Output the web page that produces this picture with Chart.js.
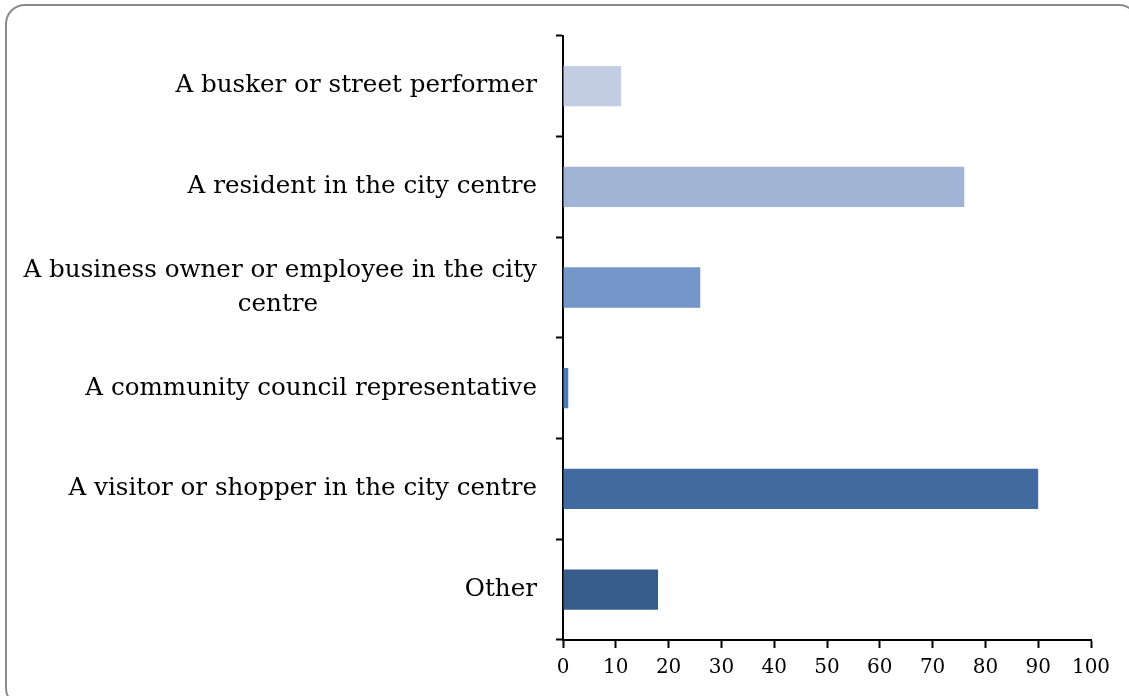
<!DOCTYPE html>
<html lang="en">
<head>
    <meta charset="UTF-8">
    <title>Respondent type</title>
    <script src="https://cdn.jsdelivr.net/npm/chart.js"></script>
    <style>
        html, body {
            margin: 0;
            padding: 0;
            background: #ffffff;
            overflow: hidden;
        }
        .chart-box {
            position: absolute;
            left: 0;
            top: 0;
            width: 1129px;
            height: 696px;
        }
        .frame {
            position: absolute;
            left: 5px;
            top: 4px;
            width: 1130px;
            height: 700px;
            border: 2px solid #8a8a8a;
            border-radius: 20px;
            pointer-events: none;
        }
    </style>
</head>
<body>
    <div class="chart-box">
        <canvas id="respondentChart" width="1129" height="696"></canvas>
    </div>
    <div class="frame"></div>

    <script>
        const categories = [
            "A busker or street performer",
            "A resident in the city centre",
            ["A business owner or employee in the city", "centre"],
            "A community council representative",
            "A visitor or shopper in the city centre",
            "Other"
        ];
        const responses = [11, 76, 26, 1, 90, 18];
        const barColours = ["#c4cee2", "#a1b4d6", "#7596c8", "#4d7bba", "#426ca1", "#385d8a"];
        const xTicks = [0, 10, 20, 30, 40, 50, 60, 70, 80, 90, 100];

        const labelFont = { family: "'DejaVu Serif', serif", size: 24.6, lineHeight: 1.36 };

        // the labels are drawn right aligned, so pad short lines of a
        // wrapped label with trailing spaces to get them centred under the first one
        const measureCtx = document.createElement("canvas").getContext("2d");
        measureCtx.font = labelFont.size + "px " + labelFont.family;
        function centreLines(label) {
            if (!Array.isArray(label)) return label;
            const widest = Math.max(...label.map(l => measureCtx.measureText(l).width));
            const space = measureCtx.measureText(" ").width;
            return label.map(l => {
                const gap = (widest - measureCtx.measureText(l).width) / 2;
                return l + " ".repeat(Math.round(gap / space));
            });
        }

        new Chart(document.getElementById("respondentChart"), {
            type: "bar",
            data: {
                labels: categories,
                datasets: [{
                    data: responses,
                    backgroundColor: barColours,
                    borderWidth: 0,
                    categoryPercentage: 0.4,
                    barPercentage: 1.0
                }]
            },
            options: {
                indexAxis: "y",
                responsive: false,
                animation: false,
                layout: { padding: { top: 33, right: 38, left: 0, bottom: 0 } },
                plugins: {
                    legend: { display: false },
                    tooltip: { enabled: false }
                },
                scales: {
                    x: {
                        min: xTicks[0],
                        max: xTicks[xTicks.length - 1],
                        afterBuildTicks: axis => { axis.ticks = xTicks.map(v => ({ value: v })); },
                        afterFit: axis => { axis.height = 56; },
                        grid: {
                            drawOnChartArea: false,
                            drawTicks: true,
                            tickLength: 8,
                            tickWidth: 2,
                            tickColor: "#000"
                        },
                        border: { color: "#000", width: 2 },
                        ticks: {
                            color: "#000",
                            padding: 8,
                            maxRotation: 0,
                            font: { family: "'DejaVu Serif', serif", size: 20 }
                        }
                    },
                    y: {
                        afterFit: axis => { axis.width = 563; },
                        grid: {
                            offset: true,
                            drawOnChartArea: false,
                            drawTicks: true,
                            tickLength: 7,
                            tickWidth: 2,
                            tickColor: "#000"
                        },
                        border: { color: "#000", width: 2 },
                        ticks: {
                            color: "#000",
                            padding: 19,
                            font: labelFont,
                            crossAlign: "near",
                            callback: function (value) {
                                return centreLines(this.getLabelForValue(value));
                            }
                        }
                    }
                }
            }
        });
    </script>
</body>
</html>
